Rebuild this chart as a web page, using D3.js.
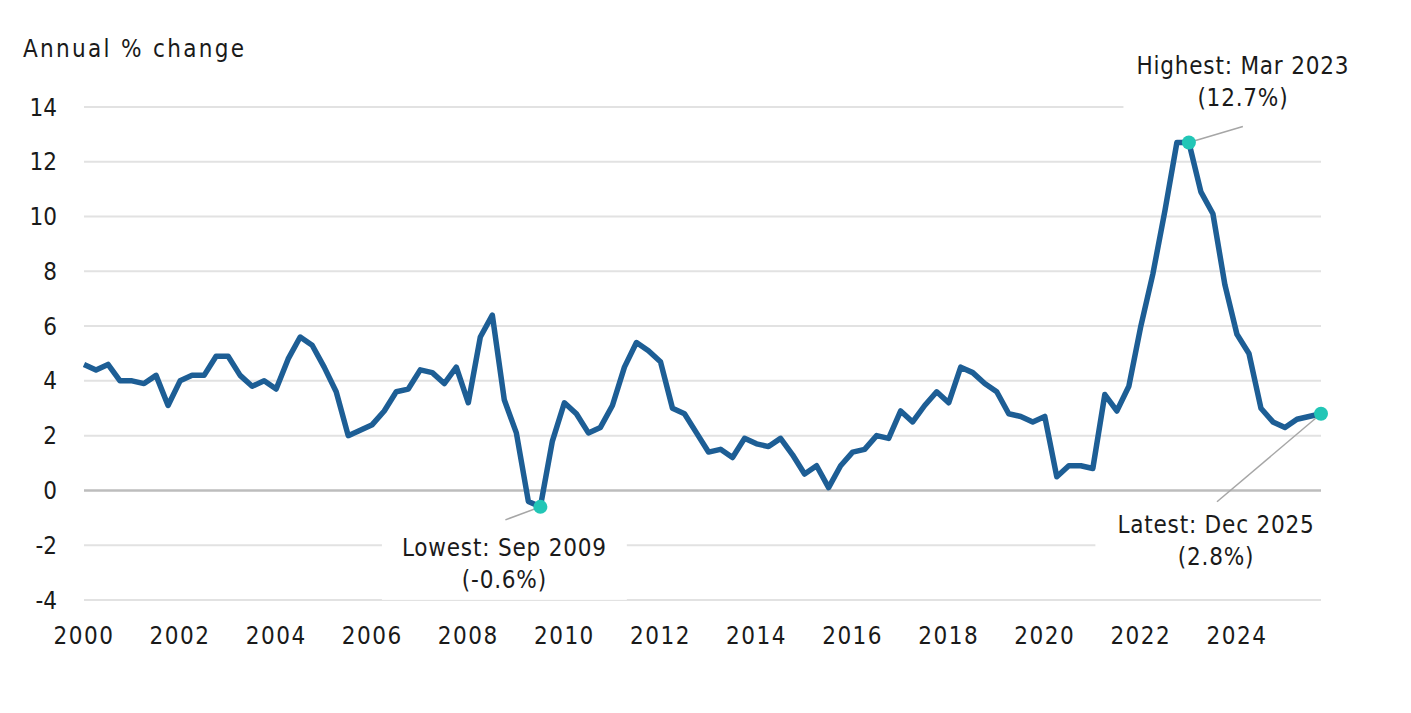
<!DOCTYPE html>
<html>
<head>
<meta charset="utf-8">
<script src="https://cdn.jsdelivr.net/npm/d3@7"></script>
<style>
  body { margin: 0; background: #fff; }
  svg text { font-family: "Liberation Sans Narrow", "Arial Narrow", "DejaVu Sans Condensed", sans-serif; fill: #1a1a1a; }
</style>
</head>
<body>
<div id="chart"></div>
<script>
// quarterly series, Mar 2000 .. Dec 2025 (annual % change)
const startYear = 2000;
const values = [
  4.6, 4.4, 4.6, 4.0, 4.0, 3.9, 4.2, 3.1,   // 2000-2001
  4.0, 4.2, 4.2, 4.9, 4.9, 4.2, 3.8, 4.0,   // 2002-2003
  3.7, 4.8, 5.6, 5.3, 4.5, 3.6, 2.0, 2.2,   // 2004-2005
  2.4, 2.9, 3.6, 3.7, 4.4, 4.3, 3.9, 4.5,   // 2006-2007
  3.2, 5.6, 6.4, 3.3, 2.1, -0.4, -0.6, 1.8, // 2008-2009
  3.2, 2.8, 2.1, 2.3, 3.1, 4.5, 5.4, 5.1,   // 2010-2011
  4.7, 3.0, 2.8, 2.1, 1.4, 1.5, 1.2, 1.9,   // 2012-2013
  1.7, 1.6, 1.9, 1.3, 0.6, 0.9, 0.1, 0.9,   // 2014-2015
  1.4, 1.5, 2.0, 1.9, 2.9, 2.5, 3.1, 3.6,   // 2016-2017
  3.2, 4.5, 4.3, 3.9, 3.6, 2.8, 2.7, 2.5,   // 2018-2019
  2.7, 0.5, 0.9, 0.9, 0.8, 3.5, 2.9, 3.8,   // 2020-2021
  6.0, 7.9, 10.2, 12.7, 12.7, 10.9, 10.1, 7.5, // 2022-2023
  5.7, 5.0, 3.0, 2.5, 2.3, 2.6, 2.7, 2.8    // 2024-2025
];
const tickYears = [2000, 2002, 2004, 2006, 2008, 2010, 2012, 2014, 2016, 2018, 2020, 2022, 2024];
const yTicks = [-4, -2, 0, 2, 4, 6, 8, 10, 12, 14];

// highlighted points: index into values + label text
const callouts = [
  { index: 92, title: "Highest: Mar 2023", sub: "(12.7%)" },
  { index: 38, title: "Lowest: Sep 2009", sub: "(-0.6%)" },
  { index: 103, title: "Latest: Dec 2025", sub: "(2.8%)" }
];
// where each label sits relative to its dot (pixels)
const calloutLayout = {
  92: { tx: 54, ty: -69, lx: 54, ly: -16, padL: 13 },
  38: { tx: -36, ty: 49, lx: -35, ly: 13, padL: 20 },
  103: { tx: -105, ty: 119, lx: -104, ly: 88, padL: 22 }
};

const svgWidth = 1411, svgHeight = 713;
const fontSize = 24;

const svg = d3.select("#chart").append("svg")
  .attr("width", svgWidth)
  .attr("height", svgHeight);

const x = d3.scaleLinear().domain([0, values.length - 1]).range([84, 1321]);
const y = d3.scaleLinear().domain([-4, 14]).range([600, 106.9]);

// gridlines
svg.append("g").selectAll("line")
  .data(yTicks)
  .join("line")
  .attr("x1", x(0))
  .attr("x2", x(values.length - 1))
  .attr("y1", d => y(d))
  .attr("y2", d => y(d))
  .attr("stroke", d => d === 0 ? "#bdbdbd" : "#e2e2e2")
  .attr("stroke-width", d => d === 0 ? 2.5 : 2);

// y tick labels
svg.append("g").selectAll("text")
  .data(yTicks)
  .join("text")
  .attr("x", 57)
  .attr("y", d => y(d))
  .attr("dy", "0.36em")
  .attr("text-anchor", "end")
  .attr("font-size", fontSize)
  .text(d => d);

// x tick labels
svg.append("g").selectAll("text")
  .data(tickYears)
  .join("text")
  .attr("x", d => x((d - startYear) * 4))
  .attr("y", 644)
  .attr("text-anchor", "middle")
  .attr("font-size", fontSize)
  .attr("letter-spacing", 1.5)
  .text(d => d);

// axis title
svg.append("text")
  .attr("x", 23)
  .attr("y", 57)
  .attr("font-size", fontSize)
  .attr("letter-spacing", 2.3)
  .text("Annual % change");

// main line
const line = d3.line()
  .x((d, i) => x(i))
  .y(d => y(d));

svg.append("path")
  .datum(values)
  .attr("fill", "none")
  .attr("stroke", "#1d5e95")
  .attr("stroke-width", 5.5)
  .attr("stroke-linejoin", "round")
  .attr("d", line);

// callouts
callouts.forEach(c => {
  const px = x(c.index), py = y(values[c.index]);
  const lay = calloutLayout[c.index];
  const g = svg.append("g");

  const box = g.append("rect").attr("fill", "#fff");

  const t1 = g.append("text")
    .attr("x", px + lay.tx)
    .attr("y", py + lay.ty)
    .attr("text-anchor", "middle")
    .attr("font-size", fontSize)
    .attr("letter-spacing", 0.8)
    .text(c.title);
  const t2 = g.append("text")
    .attr("x", px + lay.tx)
    .attr("y", py + lay.ty + 32)
    .attr("text-anchor", "middle")
    .attr("font-size", fontSize)
    .attr("letter-spacing", 0.8)
    .text(c.sub);

  // white box behind label so gridlines break around it
  const b1 = t1.node().getBBox(), b2 = t2.node().getBBox();
  const x0 = Math.min(b1.x, b2.x) - lay.padL, x1 = Math.max(b1.x + b1.width, b2.x + b2.width) + 20;
  box.attr("x", x0).attr("y", b1.y - 6)
    .attr("width", x1 - x0)
    .attr("height", b2.y + b2.height - b1.y + 12);

  svg.append("line")
    .attr("x1", px).attr("y1", py)
    .attr("x2", px + lay.lx).attr("y2", py + lay.ly)
    .attr("stroke", "#a6a6a6")
    .attr("stroke-width", 1.5);

  svg.append("circle")
    .attr("cx", px)
    .attr("cy", py)
    .attr("r", 7)
    .attr("fill", "#22c6b6");
});
</script>
</body>
</html>
